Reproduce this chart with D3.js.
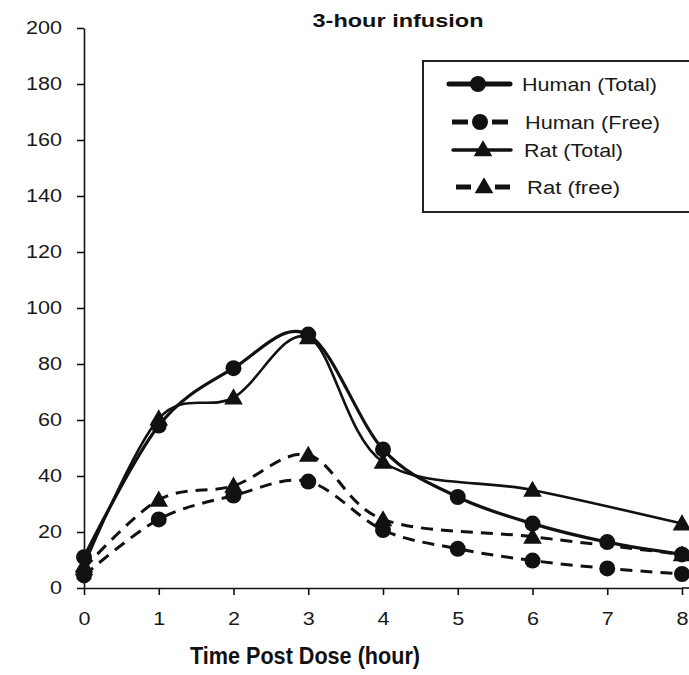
<!DOCTYPE html>
<html>
<head>
<meta charset="utf-8">
<script src="https://cdn.jsdelivr.net/npm/d3@7"></script>
<style>
  html, body { margin: 0; padding: 0; background: #fff; }
  svg { display: block; font-family: Arial, "Liberation Sans", sans-serif; }
</style>
</head>
<body>
<svg id="chart" width="689" height="675"></svg>
<script>
// ---- data ----
const title = "3-hour infusion";
const xLabel = "Time Post Dose (hour)";
const xTicks = [0, 1, 2, 3, 4, 5, 6, 7, 8];
const yTicks = [0, 20, 40, 60, 80, 100, 120, 140, 160, 180, 200];

const humanTime = [0, 1, 2, 3, 4, 5, 6, 7, 8];
const humanTotal = [11, 58, 78.5, 90.5, 49.5, 32.5, 23, 16.4, 12];
const humanFree = [4.5, 24.5, 33, 38, 20.7, 14, 9.8, 7, 5];

const ratTime = [0, 1, 2, 3, 4, 6, 8];
const ratTotal = [8, 60.5, 68, 89.5, 45, 35, 23];
const ratFree = [7, 31.5, 36.5, 47.5, 24.5, 18.3, 12];

const seriesNames = ["Human  (Total)", "Human  (Free)", "Rat (Total)", "Rat (free)"];

// ---- layout ----
const svg = d3.select("#chart");
const ink = "#111";
const x = d3.scaleLinear().domain([0, 8]).range([84, 682]);
const y = d3.scaleLinear().domain([0, 200]).range([588, 28]);

// axes
const yAxis = svg.append("g").attr("transform", "translate(84,0)")
  .call(d3.axisLeft(y).tickValues(yTicks).tickSize(7).tickSizeOuter(0).tickPadding(15));
const xAxis = svg.append("g").attr("transform", "translate(0,588)")
  .call(d3.axisBottom(x).tickValues(xTicks).tickSize(7).tickSizeOuter(0).tickPadding(17));
[yAxis, xAxis].forEach(g => {
  g.select(".domain").attr("stroke", ink).attr("stroke-width", 1.6);
  g.selectAll(".tick line").attr("stroke", ink).attr("stroke-width", 1.6);
  g.selectAll(".tick text")
    .attr("fill", "#1a1a1a")
    .style("font-size", "18px")
    .attr("textLength", d => String(d).length * 12)
    .attr("lengthAdjust", "spacingAndGlyphs");
});
// extend x axis line to right edge
svg.append("line").attr("x1", x(8)).attr("x2", 689).attr("y1", 588).attr("y2", 588)
  .attr("stroke", ink).attr("stroke-width", 1.6);

// title and axis label
svg.append("text").attr("x", 398).attr("y", 27).attr("text-anchor", "middle")
  .style("font-size", "19px").style("font-weight", "bold").attr("fill", "#111")
  .attr("textLength", 171).attr("lengthAdjust", "spacingAndGlyphs").text(title);
svg.append("text").attr("x", 305).attr("y", 664).attr("text-anchor", "middle")
  .style("font-size", "23px").style("font-weight", "bold").attr("fill", "#111")
  .attr("textLength", 230).attr("lengthAdjust", "spacingAndGlyphs").text(xLabel);

// series
const series = [
  { t: humanTime, v: humanTotal, dash: null, w: 3.2, marker: "circle" },
  { t: humanTime, v: humanFree, dash: "12,8", w: 3, marker: "circle" },
  { t: ratTime, v: ratTotal, dash: null, w: 2.6, marker: "triangle" },
  { t: ratTime, v: ratFree, dash: "12,8", w: 3, marker: "triangle" }
];
const line = d3.line().x(d => x(d[0])).y(d => y(d[1])).curve(d3.curveCatmullRom.alpha(0));
const circleSym = d3.symbol().type(d3.symbolCircle).size(200);
const triSym = d3.symbol().type(d3.symbolTriangle).size(150);

const plot = svg.append("g");
series.forEach(s => {
  const pts = s.t.map((t, i) => [t, s.v[i]]);
  plot.append("path").attr("d", line(pts)).attr("fill", "none")
    .attr("stroke", ink).attr("stroke-width", s.w)
    .attr("stroke-dasharray", s.dash).attr("stroke-linejoin", "round");
});
series.forEach(s => {
  const pts = s.t.map((t, i) => [t, s.v[i]]);
  plot.selectAll(null).data(pts).enter().append("path")
    .attr("transform", d => `translate(${x(d[0])},${y(d[1]) + (s.marker === "triangle" ? 1.5 : 0)})`)
    .attr("d", s.marker === "circle" ? circleSym() : triSym())
    .attr("fill", ink);
});

// legend
const lg = svg.append("g");
lg.append("rect").attr("x", 423).attr("y", 61).attr("width", 270).attr("height", 151)
  .attr("fill", "#fff").attr("stroke", "#222").attr("stroke-width", 2);
const legRows = [
  { y: 84, x1: 449, x2: 510, xm: 478, tx: 522, tw: 135, w: 5, dash: null, cap: "round", marker: "circle" },
  { y: 122, x1: 452, x2: 508, xm: 480, tx: 525, tw: 135, w: 5, dash: "16,24", cap: "butt", marker: "circle" },
  { y: 150, x1: 453, x2: 511, xm: 483, tx: 524, tw: 99, w: 3.5, dash: null, cap: "round", marker: "triangle" },
  { y: 187, x1: 456, x2: 510, xm: 484, tx: 527, tw: 93, w: 5, dash: "15,24", cap: "butt", marker: "triangle" }
];
legRows.forEach((r, i) => {
  lg.append("line").attr("x1", r.x1).attr("x2", r.x2).attr("y1", r.y).attr("y2", r.y)
    .attr("stroke", ink).attr("stroke-width", r.w).attr("stroke-dasharray", r.dash)
    .attr("stroke-linecap", r.cap);
  lg.append("path").attr("transform", `translate(${r.xm},${r.y + (r.marker === "triangle" ? 1 : 0)})`)
    .attr("d", r.marker === "circle" ? circleSym() : triSym()).attr("fill", ink);
  lg.append("text").attr("x", r.tx).attr("y", r.y + 6.5)
    .style("font-size", "18px").attr("fill", "#1a1a1a")
    .attr("textLength", r.tw).attr("lengthAdjust", "spacingAndGlyphs")
    .text(seriesNames[i]);
});
</script>
</body>
</html>
